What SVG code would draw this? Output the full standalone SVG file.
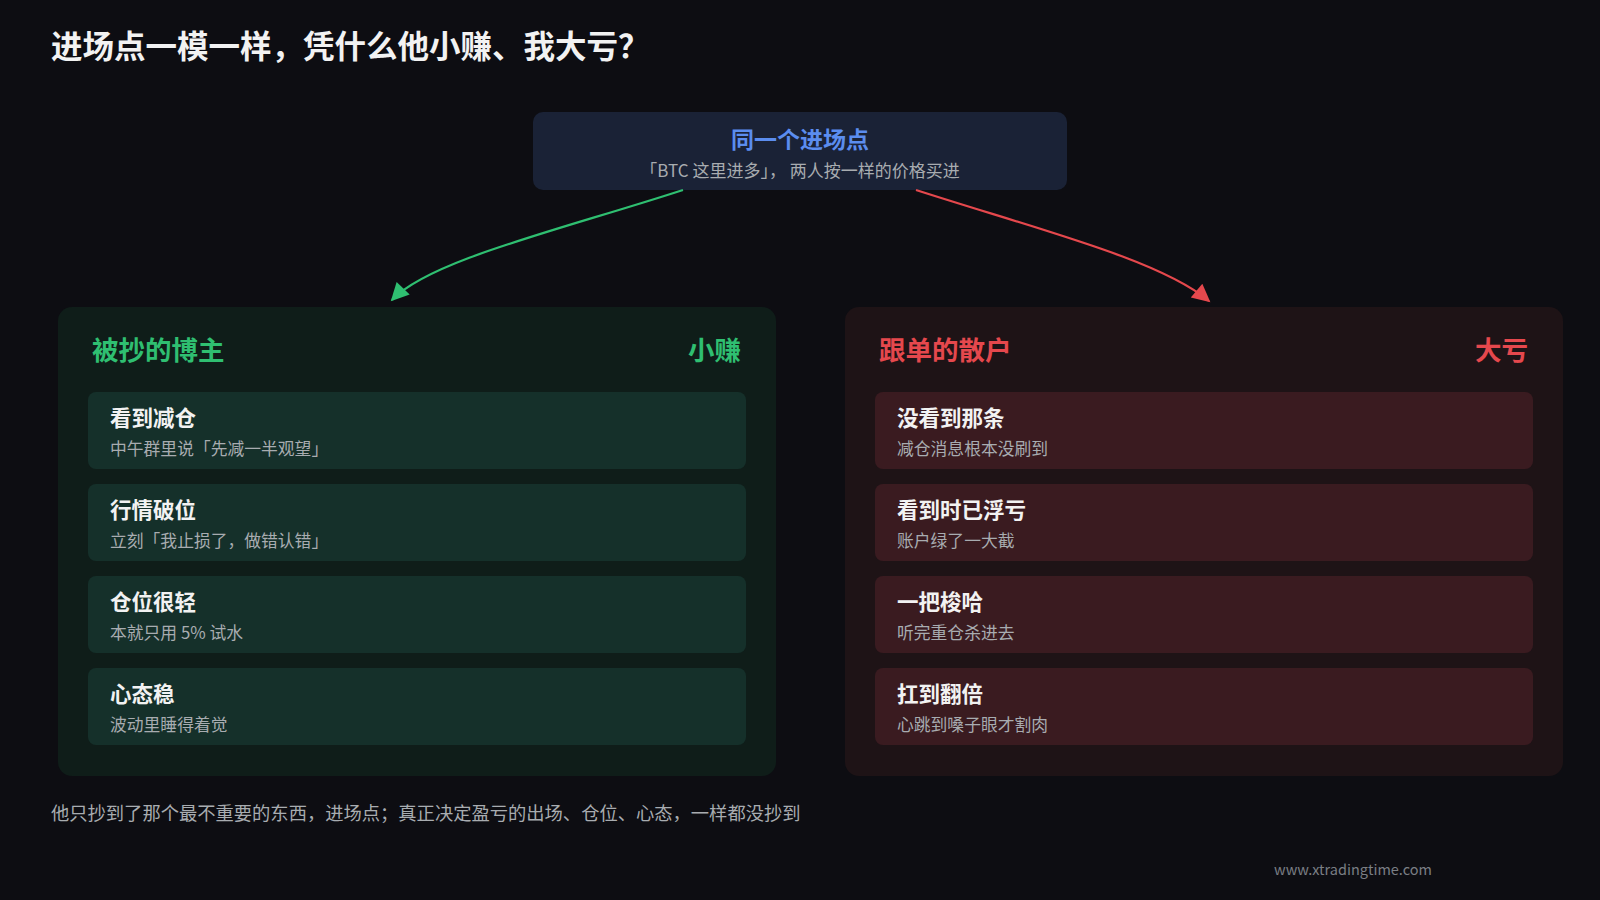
<svg xmlns="http://www.w3.org/2000/svg" width="1600" height="900" viewBox="0 0 1600 900">
<style>
text{font-family:"Noto Sans CJK SC","Noto Sans",sans-serif}
.ct{font-size:21.5px;font-weight:700;fill:#f2f2f2}
.cs{font-size:16.8px;fill:#a8acb0}
.gc{fill:#15302a}
.rc{fill:#3a1b20}
</style>
<defs>
<marker id="ag" viewBox="0 0 10 10" refX="9" refY="5" markerWidth="20" markerHeight="18" markerUnits="userSpaceOnUse" orient="auto"><path d="M0,0L10,5L0,10z" fill="#2fbf71"/></marker>
<marker id="ar" viewBox="0 0 10 10" refX="9" refY="5" markerWidth="20" markerHeight="18" markerUnits="userSpaceOnUse" orient="auto"><path d="M0,0L10,5L0,10z" fill="#e5484d"/></marker>
</defs>
<rect width="1600" height="900" fill="#0d0d12"/>
<text x="51" y="58" font-size="31.5" font-weight="700" fill="#f2f2f2">进场点一模一样，凭什么他小赚、我大亏？</text>
<g id="top">
<rect x="533" y="112" width="534" height="78" rx="10" fill="#1a2236"/>
<text x="800" y="148" font-size="23" font-weight="700" fill="#5b8def" text-anchor="middle">同一个进场点</text>
<text x="800" y="177" font-size="17" fill="#a8acb0" text-anchor="middle">「BTC 这里进多」， 两人按一样的价格买进</text>
</g>
<g id="connectors" fill="none" stroke-width="2.2">
<path d="M683,190 C560,230 430,260 392,300" stroke="#2fbf71" marker-end="url(#ag)"/>
<path d="M916,190 C1040,230 1160,260 1209,301" stroke="#e5484d" marker-end="url(#ar)"/>
</g>
<g id="left">
<rect x="58" y="307" width="718" height="469" rx="14" fill="#0f1d19"/>
<text x="92" y="360" font-size="26.5" font-weight="700" fill="#2fbf71">被抄的博主</text>
<text x="741" y="360" font-size="26.5" font-weight="700" fill="#2fbf71" text-anchor="end">小赚</text>
<g id="l1"><rect class="gc" x="88" y="392" width="658" height="77" rx="8"/><text class="ct" x="110" y="426">看到减仓</text><text class="cs" x="110" y="455">中午群里说「先减一半观望」</text></g>
<g id="l2"><rect class="gc" x="88" y="484" width="658" height="77" rx="8"/><text class="ct" x="110" y="518">行情破位</text><text class="cs" x="110" y="547">立刻「我止损了，做错认错」</text></g>
<g id="l3"><rect class="gc" x="88" y="576" width="658" height="77" rx="8"/><text class="ct" x="110" y="610">仓位很轻</text><text class="cs" x="110" y="639">本就只用 5% 试水</text></g>
<g id="l4"><rect class="gc" x="88" y="668" width="658" height="77" rx="8"/><text class="ct" x="110" y="702">心态稳</text><text class="cs" x="110" y="731">波动里睡得着觉</text></g>
</g>
<g id="right">
<rect x="845" y="307" width="718" height="469" rx="14" fill="#1e1316"/>
<text x="879" y="360" font-size="26.5" font-weight="700" fill="#e5484d">跟单的散户</text>
<text x="1528" y="360" font-size="26.5" font-weight="700" fill="#e5484d" text-anchor="end">大亏</text>
<g id="r1"><rect class="rc" x="875" y="392" width="658" height="77" rx="8"/><text class="ct" x="897" y="426">没看到那条</text><text class="cs" x="897" y="455">减仓消息根本没刷到</text></g>
<g id="r2"><rect class="rc" x="875" y="484" width="658" height="77" rx="8"/><text class="ct" x="897" y="518">看到时已浮亏</text><text class="cs" x="897" y="547">账户绿了一大截</text></g>
<g id="r3"><rect class="rc" x="875" y="576" width="658" height="77" rx="8"/><text class="ct" x="897" y="610">一把梭哈</text><text class="cs" x="897" y="639">听完重仓杀进去</text></g>
<g id="r4"><rect class="rc" x="875" y="668" width="658" height="77" rx="8"/><text class="ct" x="897" y="702">扛到翻倍</text><text class="cs" x="897" y="731">心跳到嗓子眼才割肉</text></g>
</g>
<text x="51" y="820" font-size="18.3" fill="#a8acb0">他只抄到了那个最不重要的东西，进场点；真正决定盈亏的出场、仓位、心态，一样都没抄到</text>
<text x="1353" y="875" font-size="14.5" fill="#7a7e84" text-anchor="middle">www.xtradingtime.com</text>
</svg>
